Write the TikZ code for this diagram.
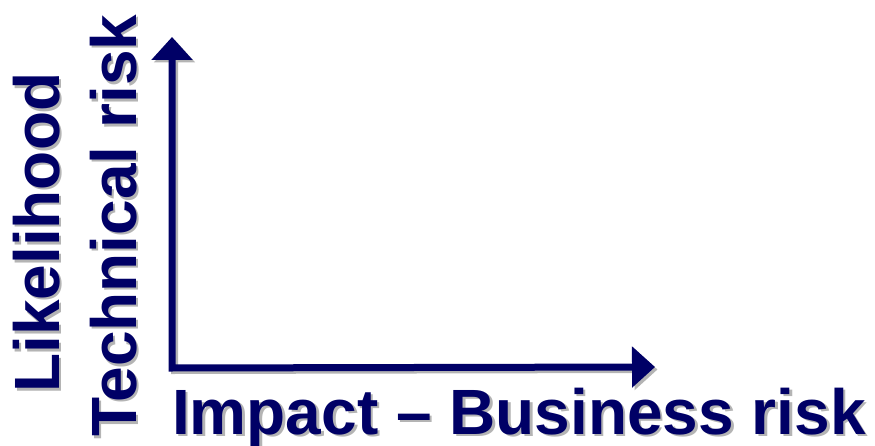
\documentclass[tikz,border=0pt]{standalone}
\usepackage{fontspec}
\setmainfont{Liberation Sans}
\usetikzlibrary{arrows.meta}
\definecolor{navy}{RGB}{0,0,102}
\definecolor{shade}{RGB}{180,180,180}
\tikzset{
  lbl/.style={inner sep=0pt, font=\fontsize{64}{64}\selectfont\bfseries, text=navy},
  lblshadow/.style={lbl, text=shade},
  axis/.style={draw=navy, line width=7pt, line join=miter,
    {Triangle[length=23pt,width=40pt]}-{Triangle[length=23pt,width=40pt]}},
  axisshadow/.style={axis, draw=shade}
}
\begin{document}
\begin{tikzpicture}[x=1pt,y=-1pt]
\useasboundingbox (0,0) rectangle (875,446);
\coordinate (o) at (172,368);
\coordinate (ytop) at (172,37);
\coordinate (xend) at (655,367);
\coordinate (so) at (174.5,370.5);
\coordinate (sytop) at (174.5,39.5);
\coordinate (sxend) at (657.5,369.5);
% shadows
\draw[axisshadow] (sytop) -- (so) -- (sxend);
\node[lblshadow, anchor=base west] (imps) at (174.5,436.5) {Impact – Business risk};
\node[lblshadow, anchor=base west, rotate=90] (techs) at (138.5,439.5) {Technical risk};
\node[lblshadow, anchor=base west, rotate=90] (likes) at (61.5,395.5) {Likelihood};
% main
\draw[axis] (ytop) -- (o) -- (xend);
\node[lbl, anchor=base west] (imp) at (172,434) {Impact – Business risk};
\node[lbl, anchor=base west, rotate=90] (tech) at (136,437) {Technical risk};
\node[lbl, anchor=base west, rotate=90] (like) at (59,393) {Likelihood};
\end{tikzpicture}
\end{document}
